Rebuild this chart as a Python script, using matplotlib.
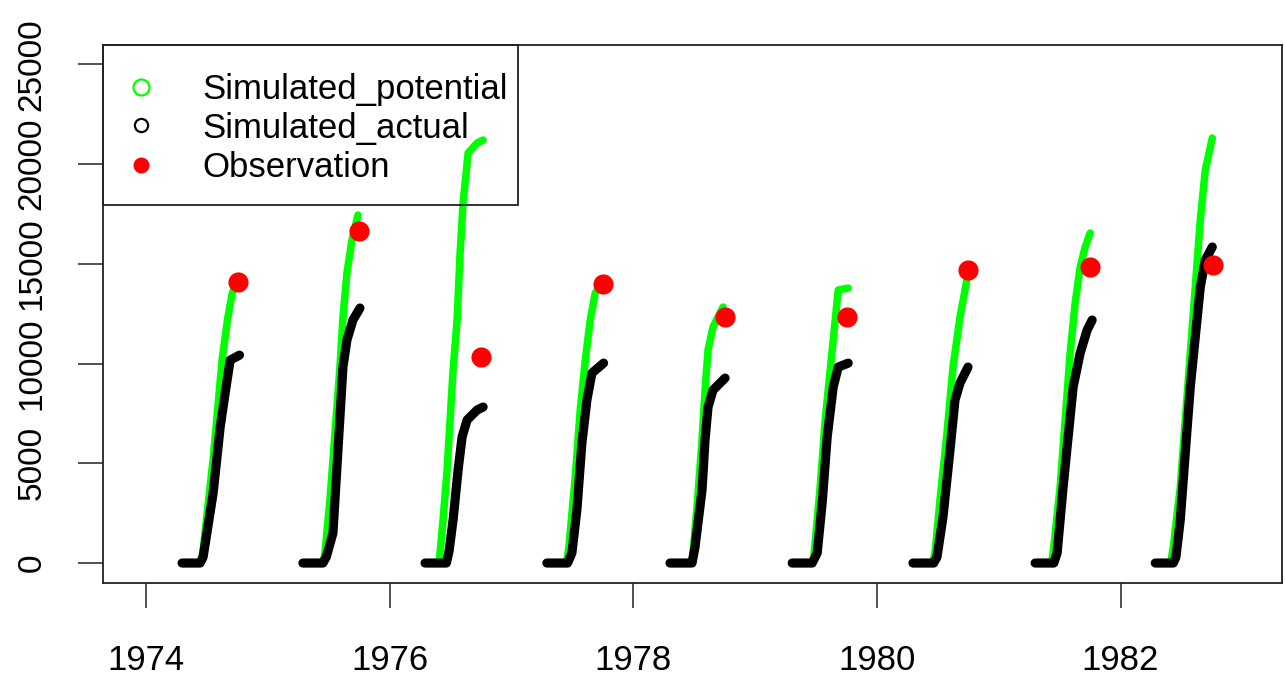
import matplotlib
matplotlib.use("Agg")
import matplotlib.pyplot as plt
from matplotlib.patches import Rectangle

plt.rcParams['font.family'] = ['Liberation Sans', 'DejaVu Sans']

years = [1974, 1975, 1976, 1977, 1978, 1979, 1980, 1981, 1982]

# day of year / value pairs, one list per season
pot_doy = [
    [108, 162, 170, 201, 228, 245, 258, 273],
    [105, 165, 171, 186, 201, 216, 225, 237, 252, 270],
    [106, 148, 160, 172, 181, 190, 202, 211, 220, 235, 262, 280],
    [106, 165, 172, 191, 206, 221, 236, 251, 272],
    [110, 172, 178, 191, 206, 215, 224, 239, 269],
    [111, 171, 176, 195, 210, 225, 240, 249, 279],
    [108, 168, 175, 189, 210, 228, 249, 264, 273],
    [109, 158, 163, 184, 199, 214, 229, 244, 259, 274],
    [104, 150, 158, 179, 194, 209, 224, 239, 254, 275],
]
pot_val = [
    [0, 0, 500, 5200, 10200, 12300, 13500, 14200],
    [0, 0, 500, 3160, 6520, 9820, 12330, 14530, 16190, 17440],
    [0, 0, 2160, 4660, 7170, 9670, 12180, 15540, 18040, 20550, 21050, 21200],
    [0, 0, 800, 4310, 7670, 10170, 12180, 13530, 14030],
    [0, 0, 300, 2810, 6170, 8670, 10680, 11830, 12830],
    [0, 0, 300, 3810, 7170, 9670, 12180, 13680, 13780],
    [0, 0, 650, 3160, 6520, 9820, 12330, 13680, 14530],
    [0, 0, 500, 3810, 7170, 10520, 13030, 14830, 15840, 16540],
    [0, 0, 800, 3810, 7170, 10520, 13830, 17190, 19700, 21300],
]

act_doy = [
    [108, 162, 171, 201, 222, 237, 252, 280],
    [105, 165, 175, 195, 207, 216, 225, 237, 255, 276],
    [106, 170, 178, 190, 205, 217, 232, 262, 280],
    [106, 168, 181, 196, 211, 226, 241, 276],
    [110, 176, 185, 206, 215, 224, 239, 275],
    [111, 171, 186, 201, 216, 234, 249, 279],
    [108, 170, 180, 198, 219, 234, 249, 273],
    [109, 165, 175, 193, 208, 223, 244, 265, 280],
    [104, 158, 166, 179, 194, 209, 224, 239, 254, 275],
]
act_val = [
    [0, 0, 300, 3500, 6800, 8520, 10170, 10420],
    [0, 0, 300, 1500, 4810, 7320, 9820, 11180, 12180, 12780],
    [0, 0, 600, 2160, 4660, 6320, 7170, 7670, 7820],
    [0, 0, 500, 2660, 6010, 8170, 9520, 10020],
    [0, 0, 800, 3660, 6170, 7820, 8670, 9270],
    [0, 0, 500, 3010, 6320, 8820, 9820, 10020],
    [0, 0, 300, 2310, 5660, 8170, 9020, 9820],
    [0, 0, 500, 3810, 6320, 8820, 10520, 11680, 12180],
    [0, 0, 300, 2160, 5510, 8820, 11330, 13830, 15190, 15840],
]

obs_doy = [276, 273, 274, 275, 275, 276, 273, 274, 277]
obs_val = [14080, 16640, 10320, 13980, 12330, 12330, 14680, 14830, 14930]

fig = plt.figure(figsize=(12.85, 6.77), dpi=100)
ax = fig.add_axes([0.0802, 0.1388, 0.9176, 0.7947])

for yr, d, v in zip(years, pot_doy, pot_val):
    x = [yr + k / 365 for k in d]
    ax.plot(x, v, color='#00FF00', lw=5.4, solid_capstyle='round',
            solid_joinstyle='round', zorder=2)

for yr, d, v in zip(years, act_doy, act_val):
    x = [yr + k / 365 for k in d]
    ax.plot(x, v, color='black', lw=6.6, solid_capstyle='round',
            solid_joinstyle='round', zorder=3)

obs_x = [yr + k / 365 for yr, k in zip(years, obs_doy)]
ax.plot(obs_x, obs_val, 'o', color='#FF0000', ms=14.5, mec='none', zorder=4)

ax.set_xlim(1973.647, 1983.327)
ax.set_ylim(-1002, 25962)
ax.set_xticks([1974, 1976, 1978, 1980, 1982])
ax.set_yticks([0, 5000, 10000, 15000, 20000, 25000])
ax.tick_params(axis='both', direction='out', length=18, width=1.1,
               labelsize=25, color='#222222')
ax.tick_params(axis='x', pad=26)
ax.tick_params(axis='y', pad=22, labelrotation=90, labelsize=24)
for lab in ax.get_yticklabels():
    lab.set_va('center')
for s in ax.spines.values():
    s.set_linewidth(1.3)
    s.set_color('#222222')

# legend box in the upper left corner, drawn without fill like R's legend
ax.add_patch(Rectangle((0, 0.7026), 0.352, 0.2974, transform=ax.transAxes,
                       fill=False, ec='#222222', lw=1.3, zorder=5, clip_on=False))
leg_labels = ['Simulated_potential', 'Simulated_actual', 'Observation']
sym_y = [0.9219, 0.8513, 0.7770]
txt_y = [0.8996, 0.8271, 0.7546]
ax.plot(0.0322, sym_y[0], 'o', transform=ax.transAxes, ms=11.5, mfc='none',
        mec='#00FF00', mew=1.6, zorder=6, clip_on=False)
ax.plot(0.0322, sym_y[1], 'o', transform=ax.transAxes, ms=9.5, mfc='none',
        mec='black', mew=1.6, zorder=6, clip_on=False)
ax.plot(0.0322, sym_y[2], 'o', transform=ax.transAxes, ms=11.5,
        color='#FF0000', mec='none', zorder=6, clip_on=False)
for lab, ty in zip(leg_labels, txt_y):
    ax.text(0.084, ty, lab, transform=ax.transAxes, fontsize=25,
            va='baseline', ha='left', zorder=6)

fig.savefig('out.png', dpi=100)
